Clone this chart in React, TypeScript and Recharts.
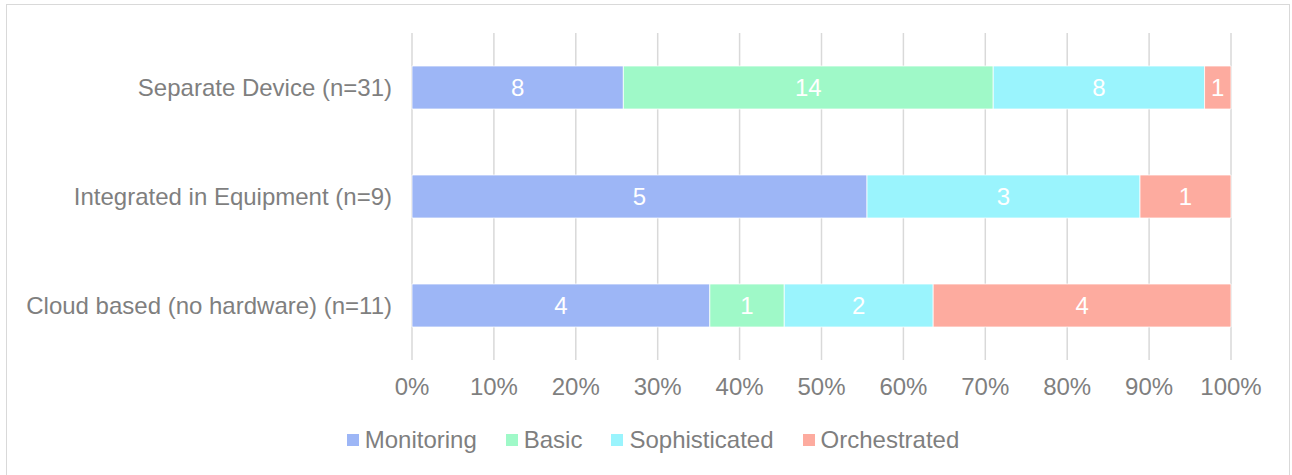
import React from "react";
import {
  BarChart,
  Bar,
  XAxis,
  YAxis,
  CartesianGrid,
  Legend,
  LabelList,
} from "recharts";

const categories = [
  "Separate Device (n=31)",
  "Integrated in Equipment (n=9)",
  "Cloud based (no hardware) (n=11)",
];
const monitoring = [8, 5, 4];
const basic = [14, 0, 1];
const sophisticated = [8, 3, 2];
const orchestrated = [1, 1, 4];
const xTicks = [0, 0.1, 0.2, 0.3, 0.4, 0.5, 0.6, 0.7, 0.8, 0.9, 1];

const series = [
  { key: "Monitoring", color: "#9db6f6" },
  { key: "Basic", color: "#9ff9c8" },
  { key: "Sophisticated", color: "#9af4fd" },
  { key: "Orchestrated", color: "#fdab9f" },
];

const data = categories.map((name, i) => ({
  name,
  Monitoring: monitoring[i],
  Basic: basic[i],
  Sophisticated: sophisticated[i],
  Orchestrated: orchestrated[i],
}));

const FONT = "'Liberation Sans', Arial, sans-serif";
const GREY = "#7f7f7f";

function LegendBox() {
  return (
    <div
      style={{
        display: "flex",
        justifyContent: "center",
        gap: 29,
        paddingLeft: 14,
        fontFamily: FONT,
        fontSize: 24,
        color: GREY,
        lineHeight: "24px",
      }}
    >
      {series.map((s) => (
        <div key={s.key} style={{ display: "flex", alignItems: "center" }}>
          <span
            style={{
              display: "inline-block",
              width: 12,
              height: 12,
              background: s.color,
              marginRight: 6,
            }}
          />
          <span>{s.key}</span>
        </div>
      ))}
    </div>
  );
}

export default function App() {
  return (
    <div
      style={{
        position: "absolute",
        left: 0,
        top: 0,
        width: 1292,
        height: 475,
        background: "#fff",
      }}
    >
      <div
        style={{
          position: "absolute",
          left: 6,
          top: 4,
          width: 1282,
          height: 475,
          border: "1px solid #d9d9d9",
        }}
      />
      <BarChart
        width={1292}
        height={475}
        data={data}
        layout="vertical"
        stackOffset="expand"
        margin={{ top: 33, right: 61, left: 0, bottom: 85 }}
        style={{ position: "absolute", left: 0, top: 0 }}
      >
        <CartesianGrid horizontal={false} stroke="#d9d9d9" strokeWidth={1.5} />
        <XAxis
          type="number"
          domain={[0, 1]}
          ticks={xTicks}
          interval={0}
          axisLine={false}
          tickLine={false}
          tickSize={0}
          tickMargin={18}
          height={30}
          tickFormatter={(v: number) => `${Math.round(v * 100)}%`}
          tick={{ fill: GREY, fontSize: 24, fontFamily: FONT }}
        />
        <YAxis
          type="category"
          dataKey="name"
          width={412}
          axisLine={false}
          tickLine={false}
          tickSize={0}
          tickMargin={20}
          tick={{ fill: GREY, fontSize: 24, fontFamily: FONT }}
        />
        <Legend
          verticalAlign="middle"
          align="center"
          wrapperStyle={{ top: 428, left: 0, width: 1292 }}
          content={() => <LegendBox />}
        />
        {series.map((s) => (
          <Bar
            key={s.key}
            dataKey={s.key}
            stackId="a"
            fill={s.color}
            stroke="#ffffff"
            strokeWidth={0.75}
            barSize={43}
            isAnimationActive={false}
          >
            <LabelList
              dataKey={s.key}
              position="center"
              fill="#ffffff"
              fontSize={24}
              fontFamily={FONT}
              formatter={(v: any) => (v ? String(v) : "")}
            />
          </Bar>
        ))}
      </BarChart>
    </div>
  );
}
